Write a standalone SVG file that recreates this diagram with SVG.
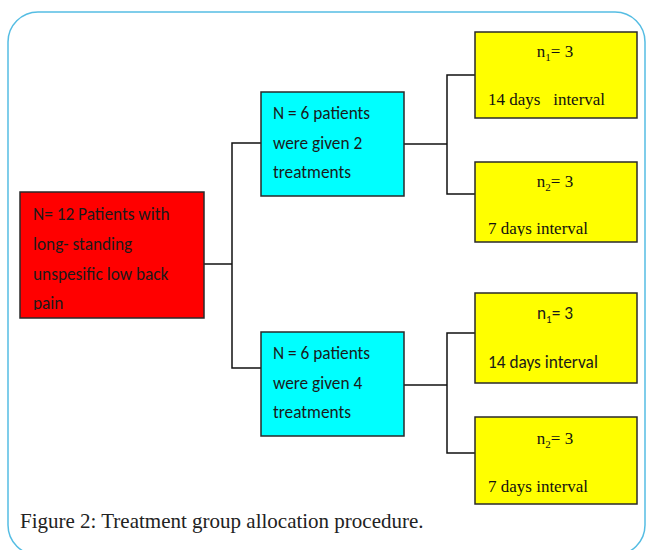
<svg xmlns="http://www.w3.org/2000/svg" width="646" height="550" viewBox="0 0 646 550">
<style>
.frame{fill:none;stroke:#55bde3;stroke-width:1.5}
.box{stroke:#2a2a2a;stroke-width:1.5}
.red{fill:#ff0000}
.cyan{fill:#00ffff}
.yel{fill:#ffff00}
.sans{font-family:"Carlito","Liberation Sans","Open Sans",sans-serif;font-size:17.3px;fill:#1a1a1a}
.serif{font-family:"Liberation Serif","Times New Roman",serif;font-size:17px;fill:#111}
.cap{font-family:"Liberation Serif","Times New Roman",serif;font-size:21px;fill:#222}
.line{fill:none;stroke:#111;stroke-width:1.5}
</style>
<defs>
<clipPath id="cr"><rect x="20" y="193" width="184" height="117"/></clipPath>
<clipPath id="cy2"><rect x="476" y="162" width="160" height="74"/></clipPath>
</defs>
<rect class="frame" x="8" y="12" width="637" height="543" rx="30" ry="30"/>
<g id="connectors">
<polyline class="line" points="204,264 232,264"/>
<polyline class="line" points="261,143 232,143 232,368 261,368"/>
<polyline class="line" points="404,144 447,144"/>
<polyline class="line" points="475,75 447,75 447,194 475,194"/>
<polyline class="line" points="404,385 447,385"/>
<polyline class="line" points="475,333 447,333 447,453 475,453"/>
</g>
<g id="root">
<rect class="box red" x="20" y="192" width="184" height="126"/>
<g clip-path="url(#cr)">
<text class="sans" x="33" y="220">N= 12 Patients with</text>
<text class="sans" x="33" y="250">long- standing</text>
<text class="sans" x="33" y="280">unspesific low back</text>
<text class="sans" x="33" y="309">pain</text>
</g>
</g>
<g id="groupA">
<rect class="box cyan" x="261" y="92" width="143" height="104"/>
<text class="sans" x="273" y="119">N = 6 patients</text>
<text class="sans" x="273" y="149">were given 2</text>
<text class="sans" x="273" y="178">treatments</text>
</g>
<g id="groupB">
<rect class="box cyan" x="261" y="332" width="143" height="104"/>
<text class="sans" x="273" y="359">N = 6 patients</text>
<text class="sans" x="273" y="389">were given 4</text>
<text class="sans" x="273" y="418">treatments</text>
</g>
<g id="a1">
<rect class="box yel" x="475" y="32" width="162" height="86"/>
<text class="serif" x="555" y="57" text-anchor="middle">n<tspan font-size="11" dy="4">1</tspan><tspan dy="-4">= 3</tspan></text>
<text class="serif" x="488" y="105" xml:space="preserve">14 days   interval</text>
</g>
<g id="a2">
<rect class="box yel" x="475" y="162" width="162" height="80"/>
<text class="serif" x="555" y="187" text-anchor="middle">n<tspan font-size="11" dy="4">2</tspan><tspan dy="-4">= 3</tspan></text>
<g clip-path="url(#cy2)"><text class="serif" x="488" y="234">7 days interval</text></g>
</g>
<g id="b1">
<rect class="box yel" x="475" y="293" width="162" height="90"/>
<text class="sans" x="555" y="319" text-anchor="middle">n<tspan font-size="11" dy="4">1</tspan><tspan dy="-4">= 3</tspan></text>
<text class="sans" x="488" y="368">14 days interval</text>
</g>
<g id="b2">
<rect class="box yel" x="475" y="417" width="162" height="87"/>
<text class="serif" x="555" y="444" text-anchor="middle">n<tspan font-size="11" dy="4">2</tspan><tspan dy="-4">= 3</tspan></text>
<text class="serif" x="488" y="492">7 days interval</text>
</g>
<text class="cap" x="20" y="528">Figure 2: Treatment group allocation procedure.</text>
</svg>
